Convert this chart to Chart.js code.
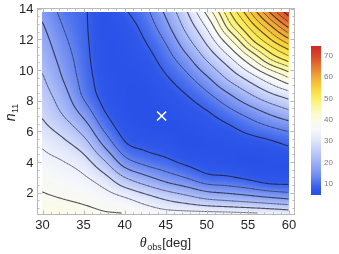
<!DOCTYPE html>
<html>
<head>
<meta charset="utf-8">
<title>n11 vs theta_obs contour</title>
<script src="https://cdn.jsdelivr.net/npm/chart.js@4.4.1/dist/chart.umd.min.js"></script>
<style>
  html, body { margin: 0; padding: 0; background: #fff; }
  canvas { display: block; }
</style>
</head>
<body>
<canvas id="myChart" width="339" height="254"></canvas>
<script>
// grid columns: theta_obs [deg]
var thetaVals = [30, 32.5, 35, 37.5, 40, 42.5, 45, 47.5, 50, 52.5, 55, 57.5, 60];
// grid rows: n11, bottom first
var nVals = [0.6, 1.7, 2.8, 3.9, 5.0, 6.1, 7.2, 8.3, 9.4, 10.5, 11.6, 12.7, 13.8];
// values, one row per n11, one entry per theta
var zRows = [
  [39.4, 39.1, 38.6, 37.8, 37.5, 36.3, 35.1, 35.0, 35.0, 34.7, 34.2, 33.5, 32.2],
  [37.8, 37.1, 36.3, 34.9, 32.8, 29.7, 26.5, 23.9, 21.2, 19.9, 18.6, 17.1, 15.8],
  [36.2, 35.1, 33.9, 30.5, 24.2, 19.9, 16.3, 13.6, 10.7, 10.0,  8.7,  7.1,  6.9],
  [34.4, 33.2, 30.5, 23.9, 15.3, 11.8,  9.9,  7.9,  6.4,  5.9,  5.0,  5.1,  5.1],
  [32.5, 29.9, 25.7, 17.1,  9.6,  7.6,  6.6,  5.0,  5.1,  5.4,  5.9,  6.8,  8.3],
  [29.6, 26.0, 20.5, 12.1,  6.8,  5.4,  5.0,  5.2,  6.1,  7.3,  9.4, 11.3, 13.2],
  [27.1, 22.0, 15.6,  8.8,  5.6,  4.8,  5.2,  6.4,  8.0, 10.8, 14.0, 17.6, 21.0],
  [25.2, 19.4, 12.0,  7.1,  5.2,  5.0,  6.4,  8.2, 11.3, 15.8, 21.0, 25.9, 29.7],
  [23.2, 17.0, 10.8,  6.4,  5.2,  5.6,  7.8, 11.0, 16.0, 22.7, 28.8, 34.9, 40.4],
  [21.2, 15.5, 10.1,  5.9,  5.5,  6.6,  9.9, 14.8, 22.0, 29.4, 37.7, 45.0, 49.0],
  [19.6, 14.0,  9.6,  5.7,  5.9,  8.0, 12.2, 19.4, 27.7, 37.0, 45.9, 51.2, 55.4],
  [17.8, 12.6,  9.2,  5.7,  6.6,  9.6, 15.2, 23.7, 32.9, 44.2, 50.9, 56.5, 62.6],
  [16.0, 11.3,  9.0,  5.8,  8.0, 11.3, 18.1, 27.4, 38.5, 48.3, 55.1, 62.6, 70.5]
];
// contour levels
var levels = [8.4, 12.5, 17.1, 22.5, 27.9, 32.8, 37.3, 41.2, 44.3, 46.9,
              49.2, 51.5, 53.7, 55.9, 58.2, 60.5, 62.9, 65.5, 68.4, 71.2];
var xTicks = [30, 35, 40, 45, 50, 55, 60];
var yTicks = [2, 4, 6, 8, 10, 12, 14];
var barTicks = [10, 20, 30, 40, 50, 60, 70];
var barRange = [4.6, 74];
var bestFit = [{x: 44.5, y: 7}];

// colour ramp (value, r, g, b)
var colorStops = [
  [4.6, 40, 80, 232], [7.3, 47, 88, 234], [9.7, 70, 108, 237], [12.2, 98, 130, 239],
  [16.3, 133, 157, 243], [21.2, 166, 184, 246], [26.2, 200, 210, 249], [30.8, 228, 233, 251],
  [35, 246, 247, 251], [39, 251, 251, 232], [42.3, 252, 250, 205], [45.8, 252, 246, 160],
  [50, 251, 238, 95], [54, 248, 215, 62], [58.8, 242, 175, 55], [63.8, 232, 125, 50],
  [69, 218, 75, 42], [74, 205, 40, 40]
];

function colorFor(v) {
  if (v <= colorStops[0][0]) return colorStops[0].slice(1);
  for (var i = 1; i < colorStops.length; i++) {
    if (v <= colorStops[i][0]) {
      var a = colorStops[i - 1], b = colorStops[i];
      var t = (v - a[0]) / (b[0] - a[0]);
      return [a[1] + t * (b[1] - a[1]), a[2] + t * (b[2] - a[2]), a[3] + t * (b[3] - a[3])];
    }
  }
  return colorStops[colorStops.length - 1].slice(1);
}

function cr(p0, p1, p2, p3, t) {
  return p1 + 0.5 * t * (p2 - p0 + t * (2 * p0 - 5 * p1 + 4 * p2 - p3 + t * (3 * (p1 - p2) + p3 - p0)));
}
function pick(arr, i) {
  var last = arr.length - 1;
  if (i < 0) return 2 * arr[0] - arr[1];
  if (i > last) return 2 * arr[last] - arr[last - 1];
  return arr[i];
}
function fieldAt(th, n) {
  var cols = thetaVals.length, rows = nVals.length;
  var gx = (th - thetaVals[0]) / (thetaVals[1] - thetaVals[0]);
  var gy = (n - nVals[0]) / (nVals[1] - nVals[0]);
  gx = Math.max(0, Math.min(cols - 1, gx));
  gy = Math.max(0, Math.min(rows - 1, gy));
  var i = Math.min(Math.floor(gx), cols - 2), j = Math.min(Math.floor(gy), rows - 2);
  var tx = gx - i, ty = gy - j;
  var r = [];
  for (var m = -1; m <= 2; m++) {
    var row;
    if (j + m < 0) row = zRows[0].map(function(v, k) { return 2 * v - zRows[1][k]; });
    else if (j + m > rows - 1) row = zRows[rows - 1].map(function(v, k) { return 2 * v - zRows[rows - 2][k]; });
    else row = zRows[j + m];
    r.push(cr(pick(row, i - 1), pick(row, i), pick(row, i + 1), pick(row, i + 2), tx));
  }
  return cr(r[0], r[1], r[2], r[3], ty);
}

var contourPlugin = {
  id: 'contour',
  beforeDatasetsDraw: function(chart) {
    var ctx = chart.ctx, xs = chart.scales.x, ys = chart.scales.y, area = chart.chartArea;
    var x0 = Math.max(Math.floor(xs.getPixelForValue(thetaVals[0])), area.left);
    var x1 = Math.min(Math.round(xs.getPixelForValue(thetaVals[thetaVals.length - 1])), area.right);
    var y0 = Math.max(Math.round(ys.getPixelForValue(nVals[nVals.length - 1])), area.top);
    var y1 = Math.min(Math.round(ys.getPixelForValue(nVals[0])), area.bottom);
    var w = x1 - x0, h = y1 - y0;

    // shaded field
    var off = document.createElement('canvas');
    off.width = w; off.height = h;
    var octx = off.getContext('2d');
    var img = octx.createImageData(w, h);
    for (var j = 0; j < h; j++) {
      var n = ys.getValueForPixel(y0 + j + 0.5);
      for (var i = 0; i < w; i++) {
        var c = colorFor(fieldAt(xs.getValueForPixel(x0 + i + 0.5), n));
        var k = (j * w + i) * 4;
        img.data[k] = c[0]; img.data[k + 1] = c[1]; img.data[k + 2] = c[2]; img.data[k + 3] = 255;
      }
    }
    octx.putImageData(img, 0, 0);
    ctx.drawImage(off, x0, y0);

    // contour lines, marching squares on a fine sample of the field
    var s = 1.5;
    var nx = Math.floor(w / s) + 1, ny = Math.floor(h / s) + 1;
    var f = new Float32Array(nx * ny);
    for (var b = 0; b < ny; b++) {
      var nn = ys.getValueForPixel(y0 + b * s);
      for (var a = 0; a < nx; a++) f[b * nx + a] = fieldAt(xs.getValueForPixel(x0 + a * s), nn);
    }
    ctx.save();
    ctx.beginPath(); ctx.rect(x0, y0, w, h); ctx.clip();
    ctx.lineJoin = 'round'; ctx.lineCap = 'round';
    levels.forEach(function(lv, li) {
      ctx.beginPath();
      for (var jj = 0; jj < ny - 1; jj++) {
        for (var ii = 0; ii < nx - 1; ii++) {
          var A = f[jj * nx + ii], B = f[jj * nx + ii + 1], C = f[(jj + 1) * nx + ii + 1], D = f[(jj + 1) * nx + ii];
          var X = x0 + ii * s, Y = y0 + jj * s;
          var pts = [];
          var pT = null, pR = null, pB = null, pL = null;
          if ((A > lv) !== (B > lv)) pT = [X + s * (lv - A) / (B - A), Y];
          if ((B > lv) !== (C > lv)) pR = [X + s, Y + s * (lv - B) / (C - B)];
          if ((D > lv) !== (C > lv)) pB = [X + s * (lv - D) / (C - D), Y + s];
          if ((A > lv) !== (D > lv)) pL = [X, Y + s * (lv - A) / (D - A)];
          [pT, pR, pB, pL].forEach(function(p) { if (p) pts.push(p); });
          if (pts.length === 2) {
            ctx.moveTo(pts[0][0], pts[0][1]); ctx.lineTo(pts[1][0], pts[1][1]);
          } else if (pts.length === 4) {
            var mid = (A + B + C + D) / 4;
            if ((mid > lv) === (A > lv)) {
              ctx.moveTo(pT[0], pT[1]); ctx.lineTo(pR[0], pR[1]);
              ctx.moveTo(pB[0], pB[1]); ctx.lineTo(pL[0], pL[1]);
            } else {
              ctx.moveTo(pT[0], pT[1]); ctx.lineTo(pL[0], pL[1]);
              ctx.moveTo(pR[0], pR[1]); ctx.lineTo(pB[0], pB[1]);
            }
          }
        }
      }
      if (li % 2 === 0) { ctx.lineWidth = 1.15; ctx.strokeStyle = 'rgba(25,25,40,0.72)'; }
      else { ctx.lineWidth = 0.85; ctx.strokeStyle = 'rgba(25,25,40,0.45)'; }
      ctx.stroke();
    });
    ctx.restore();
  },
  afterDraw: function(chart) {
    var ctx = chart.ctx, xs = chart.scales.x, ys = chart.scales.y, area = chart.chartArea;
    var L = area.left - 0.5, R = area.right + 0.5, T = area.top - 0.5, Bt = area.bottom + 0.5;
    ctx.save();
    // frame
    ctx.strokeStyle = '#b9b9b9';
    ctx.lineWidth = 1;
    ctx.strokeRect(L, T, R - L, Bt - T);
    // ticks, pointing inward on all four sides
    ctx.beginPath();
    for (var v = xTicks[0]; v <= xTicks[xTicks.length - 1] + 1e-9; v += 1) {
      var px = Math.round(xs.getPixelForValue(v)) + 0.5;
      var len = (xTicks.indexOf(v) >= 0) ? 4 : 2;
      ctx.moveTo(px, Bt); ctx.lineTo(px, Bt - len);
      ctx.moveTo(px, T); ctx.lineTo(px, T + len);
    }
    for (var u = 1; u <= yTicks[yTicks.length - 1] + 1e-9; u += 0.5) {
      var py = Math.round(ys.getPixelForValue(u)) + 0.5;
      if (py < T || py > Bt) continue;
      var ln = (yTicks.indexOf(u) >= 0) ? 4 : 2;
      ctx.moveTo(L, py); ctx.lineTo(L + ln, py);
      ctx.moveTo(R, py); ctx.lineTo(R - ln, py);
    }
    ctx.stroke();

    // tick labels
    ctx.fillStyle = '#262626';
    ctx.font = '13px "Liberation Sans", Arial, sans-serif';
    ctx.textAlign = 'center';
    ctx.textBaseline = 'alphabetic';
    xTicks.forEach(function(t) {
      ctx.fillText(String(t), xs.getPixelForValue(t), area.bottom + 15);
    });
    ctx.textAlign = 'right';
    yTicks.forEach(function(t) {
      ctx.fillText(String(t), area.left - 4.5, ys.getPixelForValue(t) + 4.7);
    });

    // x title: theta_obs[deg]
    var big = '13px "Liberation Sans", Arial, sans-serif';
    var ital = 'italic 14px "Liberation Serif", "Times New Roman", serif';
    var small = '9px "Liberation Sans", Arial, sans-serif';
    ctx.textAlign = 'left';
    ctx.font = ital; var w1 = ctx.measureText('\u03b8').width;
    ctx.font = small; var w2 = ctx.measureText('obs').width;
    ctx.font = big; var w3 = ctx.measureText('[deg]').width;
    var cx = (area.left + area.right) / 2 - 0.5;
    var sx = cx - (w1 + w2 + w3 + 1) / 2, by = 247;
    ctx.font = ital; ctx.fillText('\u03b8', sx, by);
    ctx.font = small; ctx.fillText('obs', sx + w1 + 0.5, by + 3);
    ctx.font = big; ctx.fillText('[deg]', sx + w1 + w2 + 1, by);

    // y title: n_11
    ctx.save();
    ctx.translate(15, (area.top + area.bottom) / 2 + 1);
    ctx.rotate(-Math.PI / 2);
    ctx.font = 'italic 14px "Liberation Sans", Arial, sans-serif';
    var wn = ctx.measureText('n').width;
    ctx.font = small; var ws = ctx.measureText('11').width;
    var st = -(wn + ws + 0.5) / 2;
    ctx.font = 'italic 14px "Liberation Sans", Arial, sans-serif';
    ctx.fillText('n', st, 0);
    ctx.font = small;
    ctx.fillText('11', st + wn + 0.5, 3);
    ctx.restore();

    // colour bar
    var bx = 311, bw = 10, bTop = 46, bBot = 195;
    for (var yy = bTop; yy < bBot; yy++) {
      var val = barRange[1] - (yy + 0.5 - bTop) / (bBot - bTop) * (barRange[1] - barRange[0]);
      var c = colorFor(val);
      ctx.fillStyle = 'rgb(' + Math.round(c[0]) + ',' + Math.round(c[1]) + ',' + Math.round(c[2]) + ')';
      ctx.fillRect(bx, yy, bw, 1);
    }
    ctx.fillStyle = '#7a7a7a';
    ctx.font = '8px "Liberation Sans", Arial, sans-serif';
    ctx.textAlign = 'left';
    barTicks.forEach(function(t) {
      var yb = bBot - (t - barRange[0]) / (barRange[1] - barRange[0]) * (bBot - bTop);
      ctx.fillText(String(t), bx + bw + 3, yb + 3);
    });
    ctx.restore();
  }
};

var myChart = new Chart(document.getElementById('myChart'), {
  type: 'scatter',
  data: {
    datasets: [{
      label: 'best fit',
      data: bestFit,
      pointStyle: 'crossRot',
      pointRadius: 6.4,
      pointHoverRadius: 6.4,
      borderColor: '#ffffff',
      backgroundColor: '#ffffff',
      borderWidth: 1.6
    }]
  },
  options: {
    responsive: false,
    animation: false,
    devicePixelRatio: 1,
    layout: { padding: { left: 38, top: 9, right: 45, bottom: 40 } },
    plugins: { legend: { display: false }, tooltip: { enabled: false } },
    scales: {
      x: { type: 'linear', min: 29.452, max: 60.608, display: false },
      y: { type: 'linear', min: 0.611, max: 13.975, display: false }
    }
  },
  plugins: [contourPlugin]
});
</script>
</body>
</html>
